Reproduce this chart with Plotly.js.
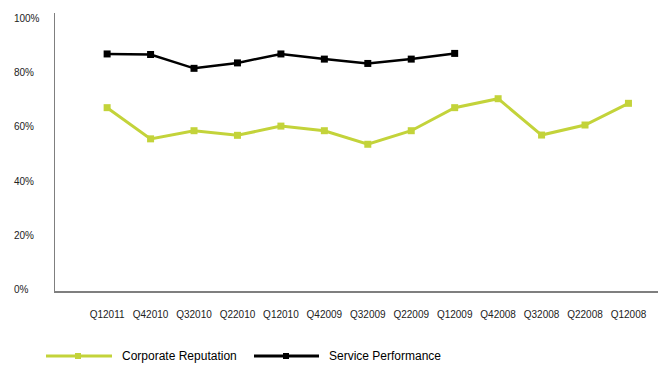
<!DOCTYPE html>
<html>
<head>
<meta charset="utf-8">
<script src="https://cdn.plot.ly/plotly-3.0.1.min.js"></script>
<style>
html,body{margin:0;padding:0;background:#fff;}
#chart{width:658px;height:367px;}
</style>
</head>
<body>
<div id="chart"></div>
<script>
var quarters = ["Q12011","Q42010","Q32010","Q22010","Q12010","Q42009","Q32009","Q22009","Q12009","Q42008","Q32008","Q22008","Q12008"];
var corporateReputation = [67.1, 55.6, 58.6, 56.9, 60.3, 58.6, 53.6, 58.6, 67.1, 70.4, 57.0, 60.7, 68.7];
var servicePerformance = [86.9, 86.7, 81.6, 83.6, 86.9, 85.0, 83.4, 85.0, 87.1, null, null, null, null];
var yTickVals = [0, 20, 40, 60, 80, 100];
var yTickText = ["0%\u2007\u2007", "20%\u2007", "40%\u2007", "60%\u2007", "80%\u2007", "100%"];
var seriesNames = ["Corporate Reputation", "Service Performance"];

var green = "#c3d33a";
var black = "#000000";

var traces = [
  {x: quarters, y: corporateReputation, name: seriesNames[0], type: "scatter", mode: "lines+markers",
   line: {color: green, width: 3}, marker: {symbol: "square", size: 7, color: green}, showlegend: false},
  {x: quarters, y: servicePerformance, name: seriesNames[1], type: "scatter", mode: "lines+markers",
   line: {color: black, width: 2.5}, marker: {symbol: "square", size: 7, color: black}, showlegend: false, connectgaps: false}
];

// manual legend placed relative to the plot area (paper coords span the plot area)
var W = 658, H = 367;
var mL = 55, mR = 0, mT = 13, mB = 76;
var plotW = W - mL - mR, plotH = H - mT - mB;
function px(x){ return (x - mL) / plotW; }
function py(y){ return (H - mB - y) / plotH; }
var legendY = 356;
var shapes = [
  {type: "line", xref: "paper", yref: "paper", x0: px(46), x1: px(112), y0: py(legendY), y1: py(legendY), line: {color: green, width: 3}},
  {type: "rect", xref: "paper", yref: "paper", x0: px(75), x1: px(81), y0: py(legendY+3), y1: py(legendY-3), fillcolor: green, line: {width: 0}},
  {type: "line", xref: "paper", yref: "paper", x0: px(254), x1: px(319), y0: py(legendY), y1: py(legendY), line: {color: black, width: 3}},
  {type: "rect", xref: "paper", yref: "paper", x0: px(283), x1: px(289), y0: py(legendY+3), y1: py(legendY-3), fillcolor: black, line: {width: 0}}
];
var annotations = [
  {xref: "paper", yref: "paper", x: px(120), y: py(legendY), xanchor: "left", yanchor: "middle", text: seriesNames[0], showarrow: false,
   font: {family: "Liberation Sans, Arial, sans-serif", size: 12, color: "#000"}},
  {xref: "paper", yref: "paper", x: px(327), y: py(legendY), xanchor: "left", yanchor: "middle", text: seriesNames[1], showarrow: false,
   font: {family: "Liberation Sans, Arial, sans-serif", size: 12, color: "#000"}}
];

var layout = {
  width: W, height: H,
  margin: {l: mL, r: mR, t: mT, b: mB, pad: 0},
  paper_bgcolor: "#fff", plot_bgcolor: "#fff",
  showlegend: false,
  font: {family: "Liberation Sans, Arial, sans-serif", size: 10, color: "#222"},
  xaxis: {
    type: "category", range: [-1.2, 12.68], showgrid: false, zeroline: false,
    showline: true, linecolor: "#7f7f7f", linewidth: 1.5,
    ticks: "", ticklabelstandoff: 13, tickfont: {size: 10, color: "#222"},
    fixedrange: true
  },
  yaxis: {
    range: [-0.5, 102], showgrid: false, zeroline: false,
    showline: true, linecolor: "#7f7f7f", linewidth: 1.5,
    tickmode: "array", tickvals: yTickVals, ticktext: yTickText,
    ticks: "", ticklabelstandoff: 12, tickfont: {size: 10, color: "#222"},
    fixedrange: true
  },
  shapes: shapes,
  annotations: annotations
};

Plotly.newPlot("chart", traces, layout, {displayModeBar: false, staticPlot: true});
</script>
</body>
</html>
